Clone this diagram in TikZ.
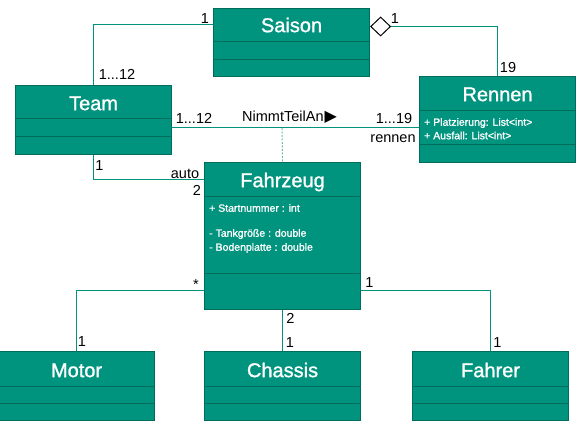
\documentclass[tikz,border=0pt]{standalone}
\usepackage{fontspec}
\setmainfont{Liberation Sans}
\newfontfamily\symfont{DejaVu Sans}
\newfontfamily\heavyfont[FakeBold=1.2]{Liberation Sans}
\usetikzlibrary{arrows.meta}
\definecolor{clsfill}{RGB}{0,148,127}
\definecolor{clsborder}{RGB}{0,108,92}
\definecolor{linecol}{RGB}{0,148,127}
\definecolor{dashcol}{RGB}{120,180,170}
\tikzset{
  cls/.style={draw=clsborder, fill=clsfill, line width=1.1pt, rectangle, inner sep=0pt,
    minimum width=156pt, anchor=north west},
  divline/.style={draw=clsborder, line width=1pt},
  ctitle/.style={text=white, font=\heavyfont\fontsize{20}{20}\selectfont, text height=14.3pt, text depth=0pt, inner sep=0pt, anchor=center},
  attr/.style={text=white, font=\heavyfont\fontsize{10.5}{10.5}\selectfont, text height=7.5pt, text depth=0pt, inner sep=0pt, anchor=west},
  mult/.style={text=black, font=\fontsize{14.5}{14.5}\selectfont, inner sep=0pt, anchor=center},
  assoc/.style={draw=linecol, line width=1pt},
}
\begin{document}
\begin{tikzpicture}[x=1pt, y=-1pt]
\useasboundingbox (0,0) rectangle (586,443);
% classes
\node[cls, minimum height=68pt] (saison) at (213,8) {};
\node[cls, minimum height=69pt] (team) at (15,85) {};
\node[cls, minimum height=86pt] (rennen) at (419,76) {};
\node[cls, minimum height=147pt] (fahrzeug) at (204,162) {};
\node[cls, minimum height=69pt] (motor) at (-2,351) {};
\node[cls, minimum height=69pt] (chassis) at (204,351) {};
\node[cls, minimum height=69pt] (fahrer) at (412,351) {};
% dividers
\draw[divline] (saison.west |- 0,42) -- (saison.east |- 0,42);
\draw[divline] (saison.west |- 0,60) -- (saison.east |- 0,60);
\draw[divline] (team.west |- 0,119) -- (team.east |- 0,119);
\draw[divline] (team.west |- 0,137) -- (team.east |- 0,137);
\draw[divline] (rennen.west |- 0,111) -- (rennen.east |- 0,111);
\draw[divline] (rennen.west |- 0,145) -- (rennen.east |- 0,145);
\draw[divline] (fahrzeug.west |- 0,197) -- (fahrzeug.east |- 0,197);
\draw[divline] (fahrzeug.west |- 0,274) -- (fahrzeug.east |- 0,274);
\foreach \c in {motor,chassis,fahrer}{
  \draw[divline] (\c.west |- 0,386.5) -- (\c.east |- 0,386.5);
  \draw[divline] (\c.west |- 0,403.5) -- (\c.east |- 0,403.5);
}
% titles
\node[ctitle] (saisonT) at (saison.north |- 0,25) {Saison};
\node[ctitle] (teamT) at (team.north |- 0,103) {Team};
\node[ctitle] (rennenT) at (rennen.north |- 0,94) {Rennen};
\node[ctitle] (fahrzeugT) at (fahrzeug.north |- 0,180) {Fahrzeug};
\node[ctitle] (motorT) at (motor.north |- 0,370) {Motor};
\node[ctitle] (chassisT) at (chassis.north |- 0,370) {Chassis};
\node[ctitle] (fahrerT) at (fahrer.north |- 0,370) {Fahrer};
% attributes
\node[attr] (r1) at (424,122) {+ Platzierung: List<int>};
\node[attr] (r2) at (424,135.5) {+ Ausfall: List<int>};
\node[attr] (f1) at (209,208) {+ Startnummer : int};
\node[attr] (f2) at (209,233) {- Tankgröße : double};
\node[attr] (f3) at (209,247) {- Bodenplatte : double};
% connectors
\draw[assoc] (team.north) |- (saison.west |- 0,25);
\draw[assoc, -{Diamond[open, length=21pt, width=20pt, line width=1pt, color=black, fill=white]}]
  (rennen.north) |- (saison.east |- 0,26.5);
\draw[assoc] (team.east |- 0,128) -- (rennen.west |- 0,128);
\coordinate (assocpt) at (282,128);
\draw[draw=dashcol, line width=1pt, dash pattern=on 2pt off 1.5pt] (assocpt) -- (fahrzeug.north);
\draw[assoc] (team.south) |- (fahrzeug.west |- 0,180);
\draw[assoc] (fahrzeug.west |- 0,291) -| (motor.north);
\draw[assoc] (fahrzeug.south) -- (chassis.north);
\draw[assoc] (fahrzeug.east |- 0,291) -| (fahrer.north);
% multiplicities and labels
\node[mult] (m1) at (205,18.5) {1};
\node[mult] (m2) at (117,74.5) {1...12};
\node[mult] (m3) at (395,18.5) {1};
\node[mult] (m4) at (508,67.5) {19};
\node[mult] (m5) at (194,118.5) {1...12};
\node[mult, anchor=west] (m6) at (242,117.5) {NimmtTeilAn\kern1pt{\symfont\fontsize{16}{16}\selectfont ▶}};
\node[mult] (m7) at (394,118.5) {1...19};
\node[mult] (m8) at (393,139) {rennen};
\node[mult] (m9) at (99.5,166) {1};
\node[mult] (m10) at (185,174) {auto};
\node[mult] (m11) at (197,190.5) {2};
\node[mult] (m12) at (196,285) {*};
\node[mult] (m13) at (369.5,283) {1};
\node[mult] (m14) at (82,342) {1};
\node[mult] (m15) at (290.5,318) {2};
\node[mult] (m16) at (290,343) {1};
\node[mult] (m17) at (497.5,343) {1};
\end{tikzpicture}
\end{document}
